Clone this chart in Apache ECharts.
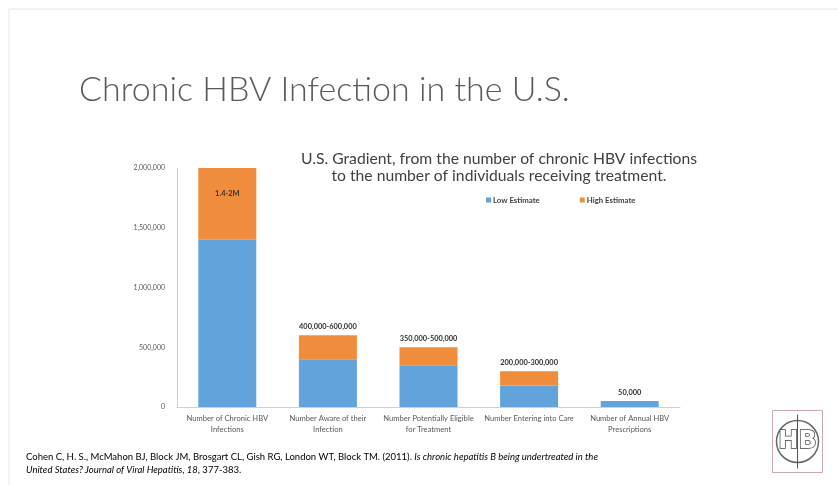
<!DOCTYPE html>
<html>
<head>
<meta charset="utf-8">
<script src="https://cdn.jsdelivr.net/npm/echarts@6/dist/echarts.min.js"></script>
<style>
html,body{margin:0;padding:0;background:#fff;}
#c{width:838px;height:485px;}
</style>
</head>
<body>
<div id="c"></div>
<script>
const categories = [
  "Number of Chronic HBV\nInfections",
  "Number Aware of their\nInfection",
  "Number Potentially Eligible\nfor Treatment",
  "Number Entering into Care",
  "Number of Annual HBV\nPrescriptions"
];
const lowEstimate = [1400000, 400000, 350000, 180000, 50000];
const highExtra = [600000, 200000, 150000, 120000, 0];
const rangeLabels = ["1.4-2M", "400,000-600,000", "350,000-500,000", "200,000-300,000", "50,000"];
const yTicks = [0, 500000, 1000000, 1500000, 2000000];

const chart = echarts.init(document.getElementById('c'));
const fmt = v => v.toLocaleString('en-US');

const highData = highExtra.map((v, i) => {
  if (i === 0) {
    return {value: v, label: {show: true, position: 'insideTop', distance: 22, formatter: rangeLabels[i]}};
  }
  return {value: v, label: {show: true, position: 'top', distance: 5, formatter: rangeLabels[i]}};
});

chart.setOption({
  animation: false,
  backgroundColor: '#ffffff',
  title: [
    {text: 'Chronic HBV Infection in the U.S.', left: 74, top: 68,
     textStyle: {fontFamily: 'Lato', fontWeight: 300, fontSize: 34, color: '#595959'}},
    {text: 'U.S. Gradient, from the number of chronic HBV infections\nto the number of individuals receiving treatment.',
     left: 494, top: 146, textAlign: 'center',
     textStyle: {fontFamily: 'Lato', fontWeight: 400, fontSize: 15.7, lineHeight: 16.5, color: '#404040'}}
  ],
  legend: {
    data: ['Low Estimate', 'High Estimate'],
    left: 481, top: 191, itemWidth: 5, itemHeight: 5, itemGap: 40,
    icon: 'rect',
    textStyle: {fontFamily: 'Lato', fontWeight: 'bold', fontSize: 7.8, color: '#404040', padding: [0, 0, 0, -3]}
  },
  grid: {left: 177, right: 158, top: 168, bottom: 78, containLabel: false},
  xAxis: {
    type: 'category', data: categories,
    axisLine: {lineStyle: {color: '#d0d0d0', width: 1}},
    axisTick: {show: false},
    axisLabel: {fontFamily: 'Lato', fontSize: 7.6, color: '#595959', lineHeight: 11, margin: 6, interval: 0}
  },
  yAxis: {
    type: 'value', min: 0, max: 2000000, interval: 500000,
    axisLine: {show: true, lineStyle: {color: '#d0d0d0', width: 1}},
    axisTick: {show: false},
    splitLine: {show: false},
    axisLabel: {fontFamily: 'Lato', fontSize: 7, color: '#595959', margin: 12,
      formatter: v => yTicks.includes(v) ? fmt(v) : ''}
  },
  series: [
    {name: 'Low Estimate', type: 'bar', stack: 's', data: lowEstimate, barWidth: 58,
     itemStyle: {color: '#62a3dc'}},
    {name: 'High Estimate', type: 'bar', stack: 's', data: highData, barWidth: 58,
     itemStyle: {color: '#f08d3c'},
     label: {fontFamily: 'Lato', fontWeight: 'bold', fontSize: 7.4, color: '#333333'}}
  ],
  graphic: [
    {type: 'rect', shape: {x: 9, y: 9, width: 840, height: 490},
     style: {fill: 'none', stroke: '#e6e6e6', lineWidth: 1}},
    {type: 'text', left: 26, top: 452,
     style: {
       text: '{n|Cohen C, H. S., McMahon BJ, Block JM, Brosgart CL, Gish RG, London WT, Block TM. (2011). }{i|Is chronic hepatitis B being undertreated in the}\n{i|United States? Journal of Viral Hepatitis, 18}{n|, 377-383.}',
       rich: {
         n: {fontFamily: 'Lato', fontSize: 9.5, color: '#404040', lineHeight: 13},
         i: {fontFamily: 'Lato', fontSize: 9.5, fontStyle: 'italic', color: '#404040', lineHeight: 13}
       }
     }},
    {type: 'group', left: 772, top: 410, children: [
      {type: 'rect', shape: {x: 0, y: 0, width: 50, height: 62},
       style: {fill: '#fff', stroke: '#c9a9b0', lineWidth: 1}},
      {type: 'circle', shape: {cx: 25, cy: 31, r: 21},
       style: {fill: 'none', stroke: '#666', lineWidth: 1.5}},
      {type: 'text', style: {text: 'HB', x: 25, y: 31, align: 'center', verticalAlign: 'middle',
        fontFamily: 'DejaVu Sans', fontWeight: 'bold', fontSize: 24, fill: '#fff', stroke: '#444', lineWidth: 1.5}},
      {type: 'line', shape: {x1: 25, y1: 4, x2: 25, y2: 58}, style: {stroke: '#555', lineWidth: 1}}
    ]}
  ]
});
</script>
</body>
</html>
